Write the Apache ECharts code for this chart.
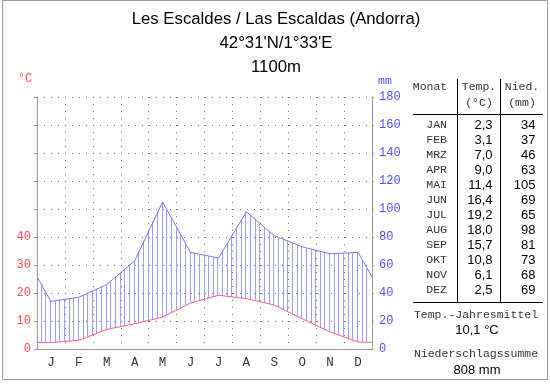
<!DOCTYPE html>
<html>
<head>
<meta charset="utf-8">
<script src="https://cdn.jsdelivr.net/npm/echarts@6/dist/echarts.min.js"></script>
<style>
html,body{margin:0;padding:0;background:#fff;}
#chart{width:550px;height:384px;}
</style>
</head>
<body>
<div id="chart"></div>
<script>
// ---- data ----
const monthLetters = ['J','F','M','A','M','J','J','A','S','O','N','D'];
const tableMonths = ['JAN','FEB','MRZ','APR','MAI','JUN','JUL','AUG','SEP','OKT','NOV','DEZ'];
const temps = [2.3,3.1,7.0,9.0,11.4,16.4,19.2,18.0,15.7,10.8,6.1,2.5];
const precip = [34,37,46,63,105,69,65,98,81,73,68,69];
// values drawn at the year boundary (left/right plot edges)
const edgeTemp = 2.4;
const edgePrecip = 51.5;
const tempTickLabels = [0,10,20,30,40];
const mmTickLabels = [0,20,40,60,80,100,120,140,160,180];
const titleLines = ['Les Escaldes / Las Escaldas (Andorra)', "42°31'N/1°33'E", '1100m'];
const annualMean = '10,1 °C';
const annualSum = '808 mm';

// ---- build series data ----
function withEdges(arr, edge, scale) {
  const out = [[0, edge * scale]];
  arr.forEach((v, i) => out.push([i + 0.5, v * scale]));
  out.push([12, edge * scale]);
  return out;
}
const tempPts = withEdges(temps, edgeTemp, 1);
const tempMm = withEdges(temps, edgeTemp, 2);   // temperature on the mm scale (10 °C = 20 mm)
const precPts = withEdges(precip, edgePrecip, 1);

// value of a polyline at x (used only to draw the hatch fill between the two lines)
function valAt(pts, x) {
  for (let i = 0; i < pts.length - 1; i++) {
    const a = pts[i], b = pts[i + 1];
    if (x >= a[0] && x <= b[0]) {
      const f = (x - a[0]) / (b[0] - a[0]);
      return a[1] + f * (b[1] - a[1]);
    }
  }
  return pts[pts.length - 1][1];
}
const HATCH_PER_MONTH = 6;

const MONO = 'Liberation Mono';
const SANS = 'Liberation Sans';
const RED = '#ff4d4d';
const BLUE = '#5050ff';
const AX = '#999';
const DOT = {type: [1, 6], color: '#777', width: 1};

const graphics = [];
function txt(x, y, text, font, fill, align) {
  graphics.push({type: 'text', x: x, y: y, silent: true,
    style: {text: text, font: font, fill: fill, textAlign: align || 'center', textVerticalAlign: 'middle', align: align || 'center', verticalAlign: 'middle'}});
}
function line(x1, y1, x2, y2, color) {
  graphics.push({type: 'line', silent: true, shape: {x1: x1, y1: y1, x2: x2, y2: y2}, style: {stroke: color || '#000', lineWidth: 1}});
}
// frame
graphics.push({type: 'rect', silent: true, shape: {x: 2.5, y: 0.5, width: 545, height: 379}, style: {fill: 'none', stroke: '#999', lineWidth: 1}});
// title
txt(276, 19, titleLines[0], '16.75px ' + SANS, '#000');
txt(276, 43.5, titleLines[1], '16.75px ' + SANS, '#000');
txt(276, 67.5, titleLines[2], '16.75px ' + SANS, '#000');
// unit labels
txt(25, 79, '°C', '12px ' + MONO, RED);
txt(385, 81, 'mm', '11.5px ' + MONO, BLUE);
// table
txt(430, 87, 'Monat', '11.5px ' + MONO, '#333');
txt(479, 87, 'Temp.', '11.5px ' + MONO, '#333');
txt(479, 103, '(°C)', '11.5px ' + MONO, '#333');
txt(522, 87, 'Nied.', '11.5px ' + MONO, '#333');
txt(522, 103, '(mm)', '11.5px ' + MONO, '#333');
line(413, 114.5, 543, 114.5);
line(413, 302.5, 543, 302.5);
line(457.5, 79, 457.5, 302);
line(500.5, 79, 500.5, 302);
tableMonths.forEach((m, i) => {
  const y = 125 + i * 15;
  txt(447, y, m, '11.5px ' + MONO, '#333', 'right');
  txt(492.5, y, temps[i].toFixed(1).replace('.', ','), '13px ' + SANS, '#000', 'right');
  txt(535.5, y, String(precip[i]), '13px ' + SANS, '#000', 'right');
});
txt(476, 315, 'Temp.-Jahresmittel', '11.5px ' + MONO, '#333');
txt(477, 330, annualMean, '13px ' + SANS, '#000');
txt(476, 354, 'Niederschlagssumme', '11.5px ' + MONO, '#333');
txt(477, 370, annualSum, '13px ' + SANS, '#000');

function renderHatch(params, api) {
  const children = [];
  const n = 12 * HATCH_PER_MONTH;
  for (let k = 1; k < n; k++) {
    const xd = k / HATCH_PER_MONTH;
    const t = valAt(tempMm, xd);
    const p = valAt(precPts, xd);
    if (p <= t) continue;
    const a = api.coord([xd, t]);
    const b = api.coord([xd, p]);
    const px = Math.round(a[0] - 1) + 0.5;
    children.push({type: 'line', silent: true,
      shape: {x1: px, y1: a[1], x2: px, y2: b[1]},
      style: {stroke: '#9d9dff', lineWidth: 1}});
  }
  return {type: 'group', children: children};
}

const chart = echarts.init(document.getElementById('chart'), null, {renderer: 'canvas'});
chart.setOption({
  animation: false,
  backgroundColor: '#fff',
  grid: {left: 37, right: 178, top: 97, bottom: 35, containLabel: false},
  xAxis: [
    {type: 'category', data: monthLetters, boundaryGap: true, position: 'bottom',
     axisLine: {lineStyle: {color: AX}}, axisTick: {length: 4, lineStyle: {color: AX}},
     axisLabel: {color: '#333', fontFamily: MONO, fontSize: 12.5, margin: 7},
     splitLine: {show: true, lineStyle: DOT}},
    {type: 'value', min: 0, max: 12, show: false}
  ],
  yAxis: [
    {type: 'value', min: 0, max: 90, interval: 10, position: 'left',
     axisLine: {show: true, lineStyle: {color: AX}},
     axisTick: {show: true, length: 3, lineStyle: {color: AX}},
     axisLabel: {color: RED, fontFamily: MONO, fontSize: 12, margin: 6,
       formatter: v => tempTickLabels.indexOf(v) >= 0 ? String(v) : ''},
     splitLine: {show: true, lineStyle: DOT}},
    {type: 'value', min: 0, max: 180, interval: 20, position: 'right',
     axisLine: {show: true, lineStyle: {color: AX}},
     axisTick: {show: true, length: 2, lineStyle: {color: AX}},
     axisLabel: {color: BLUE, fontFamily: MONO, fontSize: 12, margin: 7,
       formatter: v => mmTickLabels.indexOf(v) >= 0 ? String(v) : ''},
     splitLine: {show: false}}
  ],
  series: [
    {type: 'custom', name: 'hatch', xAxisIndex: 1, yAxisIndex: 1, data: [[0, 0]],
     renderItem: renderHatch, silent: true, clip: false, z: 1},
    {type: 'line', name: 'Niederschlag', xAxisIndex: 1, yAxisIndex: 1, data: precPts,
     symbol: 'none', lineStyle: {color: '#7575ff', width: 1}, z: 3},
    {type: 'line', name: 'Temperatur', xAxisIndex: 1, yAxisIndex: 0, data: tempPts,
     symbol: 'none', lineStyle: {color: '#ff6078', width: 1}, z: 4}
  ],
  graphic: graphics
});
</script>
</body>
</html>
